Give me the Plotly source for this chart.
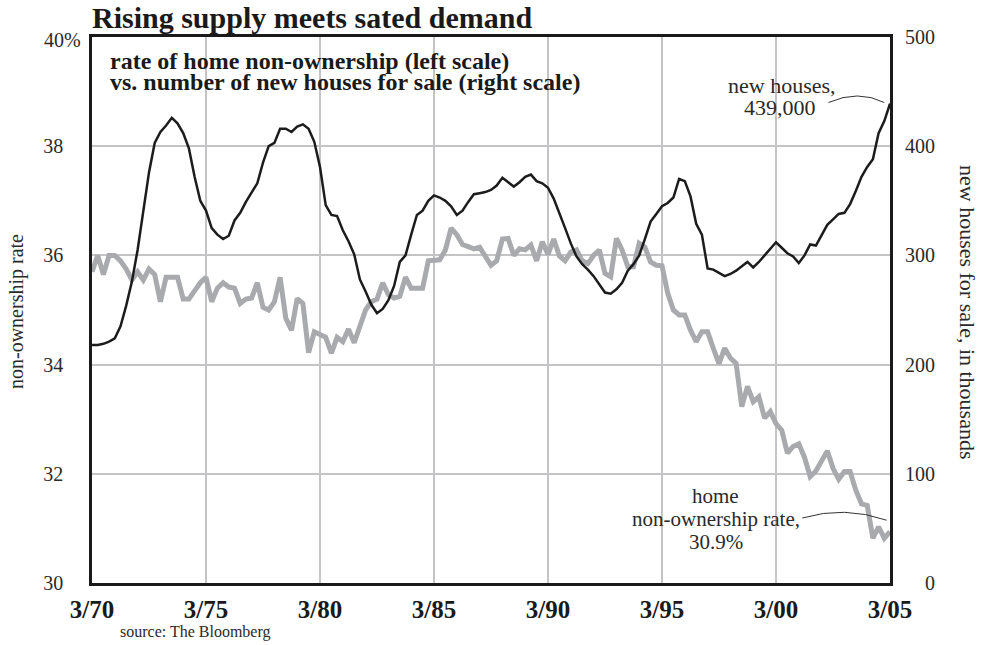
import plotly.graph_objects as go

# ---------------- data (quarterly, 3/70 .. 3/05) ----------------
quarter_index = list(range(141))  # 0 = 3/70

new_houses_k = [
    218, 218, 219, 221, 224, 235, 254, 276, 305, 343, 376, 403, 413, 419, 426, 421, 412, 398, 372, 350,
    341, 325, 319, 315, 318, 332, 339, 349, 358, 366,
    385, 400, 403, 416, 416, 413, 418, 420, 416, 404, 381, 346, 337, 336, 323, 313, 301, 278, 267, 255,
    247, 251, 259, 272, 294, 300, 319, 337, 341, 350,
    355, 353, 350, 345, 337, 341, 349, 356, 357, 358, 360, 364, 371, 367, 363, 367, 372, 374, 368, 366,
    362, 352, 339, 325, 311, 299, 292, 287, 281, 274,
    266, 265, 269, 275, 286, 292, 300, 315, 331, 338, 345, 348, 353, 370, 368, 354, 329, 319, 288, 287,
    284, 281, 283, 286, 290, 294, 289, 294, 300, 306,
    312, 307, 302, 299, 293, 300, 310, 309, 318, 328, 333, 338, 339, 347, 359, 372, 381, 388, 412, 423,
    439,
]

non_ownership_pct = [
    35.7, 36.0, 35.65, 36.0, 36.0, 35.9, 35.75, 35.55, 35.7, 35.55, 35.75, 35.65, 35.15, 35.6, 35.6,
    35.6, 35.2, 35.2, 35.35, 35.5, 35.6, 35.15, 35.4, 35.5, 35.42, 35.4, 35.12, 35.2, 35.22, 35.5,
    35.05, 35.0, 35.15, 35.6, 34.85, 34.63, 35.21, 35.12, 34.22, 34.6, 34.55, 34.5, 34.21, 34.5, 34.42,
    34.65, 34.4, 34.7, 35.0, 35.15, 35.2, 35.5, 35.28, 35.22, 35.25, 35.6, 35.4, 35.4, 35.4, 35.9,
    35.9, 35.92, 36.1, 36.5, 36.38, 36.2, 36.16, 36.12, 36.15, 36.0, 35.82, 35.9, 36.3, 36.31, 36.0,
    36.12, 36.1, 36.19, 35.9, 36.25, 36.02, 36.3, 35.99, 35.9, 36.06, 36.1, 35.9, 35.85, 36.0, 36.1,
    35.67, 35.61, 36.31, 36.1, 35.79, 35.79, 36.22, 36.15, 35.88, 35.82, 35.81, 35.31, 35.0, 34.91,
    34.91, 34.63, 34.42, 34.6, 34.6, 34.3, 34.02, 34.3, 34.12, 34.02, 33.23, 33.6, 33.32, 33.41, 33.02,
    33.14,
    32.92, 32.8, 32.38, 32.5, 32.55, 32.3, 31.95, 32.05, 32.25, 32.42, 32.1, 31.9, 32.04, 32.04, 31.7,
    31.45, 31.42, 30.82, 31.03, 30.82, 30.94,
]

x_tick_years = [1970, 1975, 1980, 1985, 1990, 1995, 2000, 2005]
x_tick_labels = ["3/70", "3/75", "3/80", "3/85", "3/90", "3/95", "3/00", "3/05"]
left_tick_vals = [30, 32, 34, 36, 38, 40]
left_tick_text = ["30", "32", "34", "36", "38", ""]
right_tick_vals = [0, 100, 200, 300, 400, 500]
right_tick_text = ["\u2007\u20070", "100", "200", "300", "400", "500"]

years = [1970 + q / 4 for q in quarter_index]

FONT = "Liberation Serif"
GRAY = "#a9aaae"
BLACK = "#1c1c1c"
TXT = "#2a2a2a"

fig = go.Figure()
fig.add_trace(go.Scatter(x=years, y=non_ownership_pct, mode="lines",
                         line=dict(color=GRAY, width=5), yaxis="y", hoverinfo="skip",
                         showlegend=False))
fig.add_trace(go.Scatter(x=years, y=new_houses_k, mode="lines",
                         line=dict(color=BLACK, width=2.5), yaxis="y2", hoverinfo="skip",
                         showlegend=False))

W, H = 987, 645
L, R, T, B = 92, 97, 37, 62
PW, PH = W - L - R, H - T - B


def px(xp):
    return (xp - L) / PW


def py(yp):
    return (H - B - yp) / PH


fig.update_layout(
    width=W, height=H,
    margin=dict(l=L, r=R, t=T, b=B, pad=0),
    paper_bgcolor="white", plot_bgcolor="white",
    font=dict(family=FONT, color=TXT),
    xaxis=dict(range=[1970, 2005], tickvals=x_tick_years, ticktext=x_tick_labels,
               showgrid=True, gridcolor="#c4c4c6", gridwidth=1.5,
               showline=True, linecolor="#1a1a1a", linewidth=2.5, mirror=True,
               ticks="", ticklabelstandoff=2, zeroline=False,
               tickfont=dict(family=FONT, size=25, color="#1a1a1a", weight="bold")),
    yaxis=dict(range=[30, 40], tickvals=left_tick_vals, ticktext=left_tick_text,
               showgrid=True, gridcolor="#c4c4c6", gridwidth=1.5,
               showline=True, linecolor="#1a1a1a", linewidth=2.5, mirror=True,
               ticks="", ticklabelstandoff=22, zeroline=False,
               tickfont=dict(family=FONT, size=20, color=TXT)),
    yaxis2=dict(range=[0, 500], tickvals=right_tick_vals, ticktext=right_tick_text,
                overlaying="y", side="right", showgrid=False, zeroline=False,
                showline=False, ticks="", ticklabelstandoff=14,
                tickfont=dict(family=FONT, size=20, color=TXT)),
)


def note(text, x, y, size, anchor="center", color=TXT, angle=0):
    return dict(text=text, xref="paper", yref="paper", x=px(x), y=py(y),
                xanchor=anchor, yanchor="middle", textangle=angle, showarrow=False,
                font=dict(family=FONT, size=size, color=color))


ann = [
    note("<b>Rising supply meets sated demand</b>", 90, 18, 30, "left", "#1a1a1a"),
    note("40%", 83, 40, 20, "right"),
    note("<b>rate of home non-ownership (left scale)</b>", 108, 61, 24, "left", "#1a1a1a"),
    note("<b>vs. number of new houses for sale (right scale)</b>", 108, 82, 24, "left", "#1a1a1a"),
    note("non-ownership rate", 16, 312, 20, angle=-90),
    note("new houses for sale, in thousands", 968, 312, 22, angle=90),
    note("new houses,", 782, 85, 22),
    note("439,000", 780, 107, 22),
    note("home", 715, 496, 21),
    note("non-ownership rate,", 716, 519, 21),
    note("30.9%", 716, 542, 21),
    note("source: The Bloomberg", 118, 632, 16, "left"),
]
fig.update_layout(annotations=ann)

# curved leader lines
fig.add_shape(type="path", xref="x", yref="y2",
              path="M 2002.3,440 Q 2003.6,452 2004.75,440",
              line=dict(color="#333333", width=1))
fig.add_shape(type="path", xref="x", yref="y",
              path="M 2001.15,31.19 Q 2003.0,31.42 2004.85,31.15",
              line=dict(color="#333333", width=1))

fig.write_html("out.html", config={"displayModeBar": False},
               post_script="document.body.style.margin='0';document.body.style.padding='0';")
